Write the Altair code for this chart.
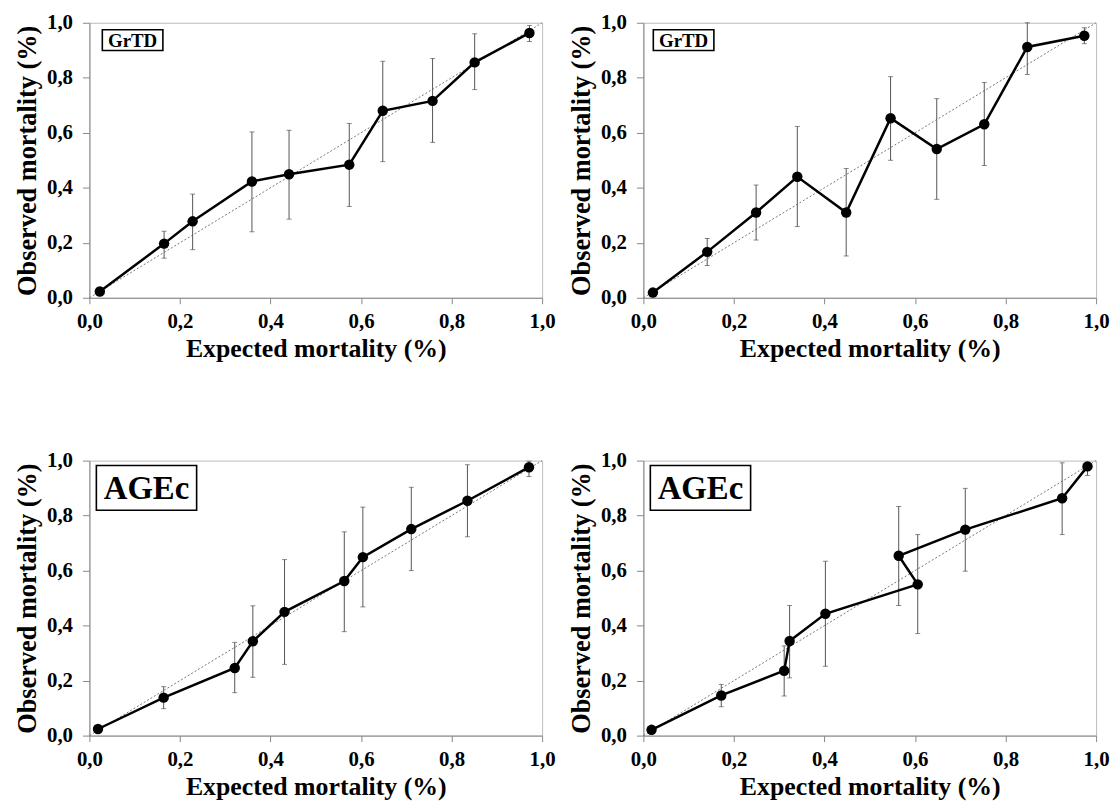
import altair as alt
import pandas as pd

# ---- data ----
ticks = [0.0, 0.2, 0.4, 0.6, 0.8, 1.0]

p1_x = [0.023, 0.165, 0.228, 0.359, 0.441, 0.574, 0.648, 0.758, 0.851, 0.972]
p1_y = [0.023, 0.197, 0.278, 0.423, 0.449, 0.484, 0.680, 0.716, 0.856, 0.963]
p1_lo = [0.015, 0.144, 0.175, 0.240, 0.286, 0.332, 0.495, 0.565, 0.757, 0.932]
p1_hi = [0.030, 0.242, 0.377, 0.603, 0.609, 0.634, 0.860, 0.870, 0.960, 0.990]

p2_x = [0.021, 0.141, 0.249, 0.340, 0.448, 0.546, 0.648, 0.753, 0.848, 0.974]
p2_y = [0.019, 0.167, 0.310, 0.440, 0.310, 0.653, 0.541, 0.631, 0.912, 0.953]
p2_lo = [0.012, 0.117, 0.210, 0.259, 0.152, 0.500, 0.358, 0.481, 0.812, 0.924]
p2_hi = [0.026, 0.216, 0.410, 0.623, 0.470, 0.804, 0.724, 0.783, 1.000, 0.982]

p3_x = [0.019, 0.164, 0.321, 0.361, 0.431, 0.563, 0.604, 0.711, 0.835, 0.971]
p3_y = [0.024, 0.138, 0.246, 0.343, 0.450, 0.562, 0.649, 0.751, 0.854, 0.976]
p3_lo = [0.015, 0.098, 0.156, 0.212, 0.259, 0.378, 0.468, 0.600, 0.723, 0.942]
p3_hi = [0.032, 0.178, 0.339, 0.472, 0.640, 0.741, 0.831, 0.903, 0.985, 0.998]

p4_x = [0.018, 0.172, 0.311, 0.323, 0.402, 0.606, 0.564, 0.711, 0.925, 0.981]
p4_y = [0.021, 0.146, 0.236, 0.344, 0.443, 0.550, 0.654, 0.749, 0.863, 0.979]
p4_lo = [0.014, 0.105, 0.144, 0.210, 0.252, 0.371, 0.473, 0.598, 0.731, 0.946]
p4_hi = [0.028, 0.186, 0.326, 0.473, 0.634, 0.731, 0.833, 0.899, 0.992, 0.994]

diag_x = [0.0, 1.0]
diag_y = [0.0, 1.0]

FONT = "Liberation Serif"
W, H = 456, 277
LBL = "replace(format(datum.value, '.1f'), '.', ',')"


def panel(xs, ys, los, his, label, box, fsize):
    df = pd.DataFrame({"x": xs, "y": ys, "lo": los, "hi": his, "k": list(range(len(xs)))})
    xsc = alt.Scale(domain=[0, 1], nice=False, padding=0, zero=False)
    ysc = alt.Scale(domain=[0, 1], nice=False, padding=0, zero=False)
    xax = alt.Axis(values=ticks, labelExpr=LBL, title="Expected mortality (%)", labelFlush=False)
    yax = alt.Axis(values=ticks, labelExpr=LBL, title="Observed mortality (%)", labelFlush=False)
    X = alt.X("x:Q", scale=xsc, axis=xax)
    base = alt.Chart(df)

    diag = alt.Chart(pd.DataFrame({"x": diag_x, "y": diag_y})).mark_line(
        color="#777", strokeWidth=1, strokeDash=[2, 2]
    ).encode(x=X, y=alt.Y("y:Q", scale=ysc, axis=yax))

    err = base.mark_rule(color="#555", strokeWidth=1).encode(
        x=X, y=alt.Y("lo:Q", scale=ysc, axis=yax), y2="hi:Q"
    )
    cap_lo = base.mark_tick(orient="horizontal", size=5, thickness=1, color="#555").encode(
        x=X, y=alt.Y("lo:Q", scale=ysc, axis=yax)
    )
    cap_hi = base.mark_tick(orient="horizontal", size=5, thickness=1, color="#555").encode(
        x=X, y=alt.Y("hi:Q", scale=ysc, axis=yax)
    )
    line = base.mark_line(color="black", strokeWidth=2.5).encode(
        x=X, y=alt.Y("y:Q", scale=ysc, axis=yax), order="k:Q"
    )
    pts = base.mark_circle(size=110, color="black", opacity=1).encode(
        x=X, y=alt.Y("y:Q", scale=ysc, axis=yax)
    )

    bx0, by0, bw, bh = box
    dummy = alt.Chart(pd.DataFrame({"a": [0]}))
    rect = dummy.mark_rect(fill="white", stroke="black", strokeWidth=1.6).encode(
        x=alt.value(bx0), x2=alt.value(bx0 + bw), y=alt.value(by0), y2=alt.value(by0 + bh)
    )
    txt = dummy.mark_text(
        text=label, font=FONT, fontWeight="bold", fontSize=fsize, color="black",
        align="center", baseline="middle"
    ).encode(x=alt.value(bx0 + bw / 2), y=alt.value(by0 + bh / 2 + 1))

    return alt.layer(diag, err, cap_lo, cap_hi, line, pts, rect, txt).properties(width=W, height=H)


c1 = panel(p1_x, p1_y, p1_lo, p1_hi, "GrTD", (13, 7, 61, 21), 19)
c2 = panel(p2_x, p2_y, p2_lo, p2_hi, "GrTD", (10, 7, 61, 21), 19)
c3 = panel(p3_x, p3_y, p3_lo, p3_hi, "AGEc", (7, 5, 101, 45), 33)
c4 = panel(p4_x, p4_y, p4_lo, p4_hi, "AGEc", (7, 5, 101, 45), 33)

chart = alt.vconcat(
    alt.hconcat(c1, c2, spacing=12),
    alt.hconcat(c3, c4, spacing=12),
    spacing=87,
).properties(
    padding={"left": 6, "top": 0, "right": 0, "bottom": 0}, background="white"
).configure_scale(
    continuousPadding=0
).configure_axis(
    labelFont=FONT, labelFontSize=21, labelFontWeight="bold", labelColor="black",
    titleFont=FONT, titleFontSize=26.5, titleFontWeight="bold", titleColor="black",
    domainColor="#888", tickColor="#888", grid=False,
).configure_axisX(
    tickSize=6, labelPadding=7, titlePadding=4, titleFontSize=26,
).configure_axisY(
    tickSize=7, labelPadding=10, titlePadding=5,
).configure_view(stroke="#bbb", strokeWidth=1)

chart.save("out.html", embed_options={"renderer": "svg", "actions": False})
